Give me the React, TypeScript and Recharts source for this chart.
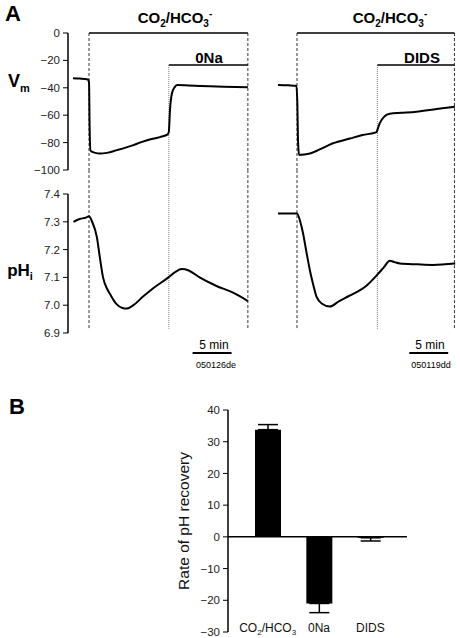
import React from 'react'
import { Bar, BarChart, ErrorBar, Line, LineChart, ReferenceLine, XAxis, YAxis } from 'recharts'

const FONT = '"Liberation Sans Narrow", "Liberation Sans", Arial, sans-serif'

// time in minutes from the start of each recording window
const timeDomain: [number, number] = [0, 23.5]

const vmTicks = [0, -20, -40, -60, -80, -100]
const phTicks = [6.9, 7.0, 7.1, 7.2, 7.3, 7.4]

// left experiment (0Na)
const leftVmT = [0.64, 1.5, 2.55, 2.7, 2.78, 2.9, 3.5, 4.1, 5.0, 6.3, 7.5, 8.3, 9.5, 10.5, 11.8, 12.8, 12.95, 13.1, 13.35, 13.7, 14.0, 15.5, 17, 20, 23.1]
const leftVmV = [-33, -33.3, -34, -36, -70, -86, -87.5, -88, -87.5, -85.5, -83.5, -82, -79.5, -77.8, -76, -74, -72, -56, -44, -39.5, -38, -38.3, -38.6, -39.2, -39.6]
const leftPhT = [0.7, 1.5, 2.3, 2.7, 3.1, 3.7, 4.1, 4.5, 5.0, 5.4, 6.2, 7.0, 7.5, 8.4, 9.6, 10.9, 12.9, 13.8, 14.6, 15.5, 16.9, 19, 21.2, 23.1]
const leftPhV = [7.3, 7.31, 7.315, 7.32, 7.3, 7.246, 7.17, 7.1, 7.06, 7.04, 7.005, 6.99, 6.988, 7.0, 7.03, 7.06, 7.1, 7.12, 7.13, 7.125, 7.1, 7.07, 7.045, 7.015]
const leftEvents = [2.7, 12.95, 23.1]
const leftScale = [16, 21]

// right experiment (DIDS)
const rightVmT = [0.64, 2.0, 3.0, 3.12, 3.22, 3.35, 4.0, 4.74, 6.0, 7.7, 9.9, 11.5, 13.3, 13.45, 13.7, 14.3, 15.0, 16.5, 18.4, 21, 23.35]
const rightVmV = [-38, -38.2, -38.5, -50, -80, -89, -88.7, -88, -85, -80.5, -77, -74.5, -72.3, -70, -66, -61, -59, -58.3, -57.4, -55.5, -53.8]
const rightPhT = [0.64, 1.8, 3.08, 3.5, 3.85, 4.3, 4.74, 5.2, 5.6, 6.3, 7.3, 8.5, 9.9, 12.0, 13.4, 14.2, 15.0, 15.6, 16.3, 18.5, 20.5, 23.4]
const rightPhV = [7.33, 7.33, 7.33, 7.3, 7.26, 7.19, 7.125, 7.07, 7.03, 7.005, 6.995, 7.015, 7.035, 7.07, 7.11, 7.135, 7.16, 7.155, 7.15, 7.147, 7.145, 7.15]
const rightEvents = [3.08, 13.4, 23.3]
const rightScale = [17.5, 22.5]

// levels of the solution bars above the Vm traces
const co2BarLevel = 0
const drugBarLevel = -23.4
const phLineTop = 7.486
const phLineBottom = 6.915
const scaleBarLevel = 6.828

// panel B
const categories = ['CO2/HCO3', '0Na', 'DIDS']
const rates = [33.8, -21.0, -0.3]
const errLow = [0, 2.9, 1.0]
const errHigh = [1.6, 0, 0]
const rateTicks = [-30, -20, -10, 0, 10, 20, 30, 40]

const zip = (t: number[], v: number[]) => t.map((x, i) => ({ t: x, v: v[i] }))
const minus = (v: number) => String(v).replace('-', '\u2212')

const axisProps = {
  axisLine: { stroke: '#000', strokeWidth: 1.5 },
  tickLine: { stroke: '#000', strokeWidth: 1 },
  tickSize: 5,
  tickMargin: 3,
  interval: 0 as const,
  tick: { fill: '#222', fontSize: 11.5, fontFamily: FONT },
}

type Box = { left: number; top: number; width: number; height: number; margin: { top: number; right: number; bottom: number; left: number } }

function Trace({ box, data, domain, ticks, fmt, axis, children }: {
  box: Box; data: { t: number; v: number }[]; domain: [number, number]; ticks: number[]
  fmt: (v: number) => string; axis: boolean; children?: React.ReactNode
}) {
  return (
    <div style={{ position: 'absolute', left: box.left, top: box.top }}>
      <LineChart width={box.width} height={box.height} data={data} margin={box.margin}>
        <XAxis type="number" dataKey="t" domain={timeDomain} hide allowDataOverflow />
        <YAxis type="number" domain={domain} ticks={ticks} hide={!axis} width={68} tickFormatter={fmt} allowDataOverflow {...axisProps} />
        {children}
        <Line dataKey="v" type="monotone" stroke="#000" strokeWidth={2} dot={false} isAnimationActive={false} />
      </LineChart>
    </div>
  )
}

function vmMarks(ev: number[]) {
  return [
    <ReferenceLine key="a" segment={[{ x: ev[0], y: co2BarLevel }, { x: ev[0], y: -100 }]} ifOverflow="visible" stroke="#333" strokeDasharray="3 2" />,
    <ReferenceLine key="b" segment={[{ x: ev[1], y: drugBarLevel }, { x: ev[1], y: -100 }]} ifOverflow="visible" stroke="#777" strokeDasharray="1 1" />,
    <ReferenceLine key="c" segment={[{ x: ev[2], y: co2BarLevel }, { x: ev[2], y: -100 }]} ifOverflow="visible" stroke="#333" strokeDasharray="3 2" />,
    <ReferenceLine key="d" segment={[{ x: ev[0], y: co2BarLevel }, { x: ev[2], y: co2BarLevel }]} ifOverflow="visible" stroke="#000" strokeWidth={1.5} />,
    <ReferenceLine key="e" segment={[{ x: ev[1], y: drugBarLevel }, { x: ev[2], y: drugBarLevel }]} ifOverflow="visible" stroke="#000" strokeWidth={1.5} />,
  ]
}

function phMarks(ev: number[], sb: number[]) {
  return [
    <ReferenceLine key="a" segment={[{ x: ev[0], y: phLineTop }, { x: ev[0], y: phLineBottom }]} ifOverflow="visible" stroke="#333" strokeDasharray="3 2" />,
    <ReferenceLine key="b" segment={[{ x: ev[1], y: phLineTop }, { x: ev[1], y: phLineBottom }]} ifOverflow="visible" stroke="#777" strokeDasharray="1 1" />,
    <ReferenceLine key="c" segment={[{ x: ev[2], y: phLineTop }, { x: ev[2], y: phLineBottom }]} ifOverflow="visible" stroke="#333" strokeDasharray="3 2" />,
    <ReferenceLine key="d" segment={[{ x: sb[0], y: scaleBarLevel }, { x: sb[1], y: scaleBarLevel }]} ifOverflow="visible" stroke="#000" strokeWidth={2} />,
  ]
}

const label = (left: number, top: number, content: React.ReactNode, style: React.CSSProperties = {}) => (
  <div style={{ position: 'absolute', left, top, transform: 'translate(-50%, -50%)', whiteSpace: 'nowrap', fontFamily: FONT, lineHeight: 1, ...style }}>
    {content}
  </div>
)

const Co2Title = () => (
  <span>CO<sub style={{ fontSize: 10 }}>2</sub>/HCO<sub style={{ fontSize: 10 }}>3</sub><sup style={{ fontSize: 10 }}>-</sup></span>
)

function CategoryTick(props: any) {
  const { x, y, payload } = props
  const v = payload.value as string
  return (
    <text x={x} y={y} textAnchor="middle" fontSize={12} fontFamily={FONT} fill="#111">
      {v === 'CO2/HCO3' ? (
        <>
          <tspan>CO</tspan><tspan fontSize={8} dy={3}>2</tspan><tspan dy={-3}>/HCO</tspan><tspan fontSize={8} dy={3}>3</tspan>
        </>
      ) : v}
    </text>
  )
}

export default function App() {
  const vmLeftBox: Box = { left: 0, top: 0, width: 260, height: 180, margin: { top: 33, right: 9, bottom: 10, left: 0 } }
  const phLeftBox: Box = { left: 0, top: 160, width: 260, height: 220, margin: { top: 34, right: 9, bottom: 47, left: 0 } }
  const vmRightBox: Box = { left: 263, top: 0, width: 197, height: 180, margin: { top: 33, right: 4, bottom: 10, left: 10 } }
  const phRightBox: Box = { left: 263, top: 160, width: 197, height: 220, margin: { top: 34, right: 4, bottom: 47, left: 10 } }

  const barData = categories.map((name, i) => ({ name, rate: rates[i], err: [errLow[i], errHigh[i]] }))

  return (
    <div style={{ position: 'absolute', left: 0, top: 0, width: 460, height: 638, background: '#fff', fontFamily: FONT, color: '#000' }}>
      <Trace box={vmLeftBox} data={zip(leftVmT, leftVmV)} domain={[-100, 0]} ticks={vmTicks} fmt={minus} axis>
        {vmMarks(leftEvents)}
      </Trace>
      <Trace box={phLeftBox} data={zip(leftPhT, leftPhV)} domain={[6.9, 7.4]} ticks={phTicks} fmt={(v) => v.toFixed(1)} axis>
        {phMarks(leftEvents, leftScale)}
      </Trace>
      <Trace box={vmRightBox} data={zip(rightVmT, rightVmV)} domain={[-100, 0]} ticks={vmTicks} fmt={minus} axis={false}>
        {vmMarks(rightEvents)}
      </Trace>
      <Trace box={phRightBox} data={zip(rightPhT, rightPhV)} domain={[6.9, 7.4]} ticks={phTicks} fmt={(v) => v.toFixed(1)} axis={false}>
        {phMarks(rightEvents, rightScale)}
      </Trace>

      {label(13, 14, 'A', { fontSize: 22, fontWeight: 'bold', fontFamily: 'Arial, "Liberation Sans", sans-serif' })}
      {label(17, 407, 'B', { fontSize: 22, fontWeight: 'bold', fontFamily: 'Arial, "Liberation Sans", sans-serif' })}
      {label(19, 83, <span>V<sub style={{ fontSize: 11 }}>m</sub></span>, { fontSize: 18, fontWeight: 'bold' })}
      {label(20, 272, <span>pH<sub style={{ fontSize: 11 }}>i</sub></span>, { fontSize: 17, fontWeight: 'bold' })}
      {label(175, 19, <Co2Title />, { fontSize: 15, fontWeight: 'bold' })}
      {label(390, 19, <Co2Title />, { fontSize: 15, fontWeight: 'bold' })}
      {label(209, 57, '0Na', { fontSize: 15, fontWeight: 'bold' })}
      {label(422, 57, 'DIDS', { fontSize: 15, fontWeight: 'bold' })}
      {label(214, 345, '5 min', { fontSize: 12 })}
      {label(216, 365, '050126de', { fontSize: 9 })}
      {label(430, 345, '5 min', { fontSize: 12 })}
      {label(431, 365, '050119dd', { fontSize: 9 })}

      <div style={{ position: 'absolute', left: 150, top: 380 }}>
        <BarChart width={310} height={258} data={barData} margin={{ top: 30, right: 53, bottom: 6, left: 0 }}>
          <XAxis dataKey="name" height={1} mirror axisLine={false} tickLine={false} tickSize={0} tickMargin={0} interval={0} padding={{ left: 14, right: 11 }} tick={<CategoryTick />} />
          <YAxis
            type="number"
            domain={[-30, 40]}
            ticks={rateTicks}
            width={78}
            tickFormatter={minus}
            {...axisProps}
            label={{ value: 'Rate of pH recovery', angle: -90, position: 'insideLeft', offset: 33, style: { textAnchor: 'middle', fontSize: 15.5, fontFamily: FONT, fill: '#111' } }}
          />
          <ReferenceLine y={0} stroke="#000" strokeWidth={1.5} />
          <Bar dataKey="rate" fill="#000" barSize={26} isAnimationActive={false}>
            <ErrorBar dataKey="err" width={10} stroke="#000" strokeWidth={1.5} direction="y" />
          </Bar>
        </BarChart>
      </div>
    </div>
  )
}
